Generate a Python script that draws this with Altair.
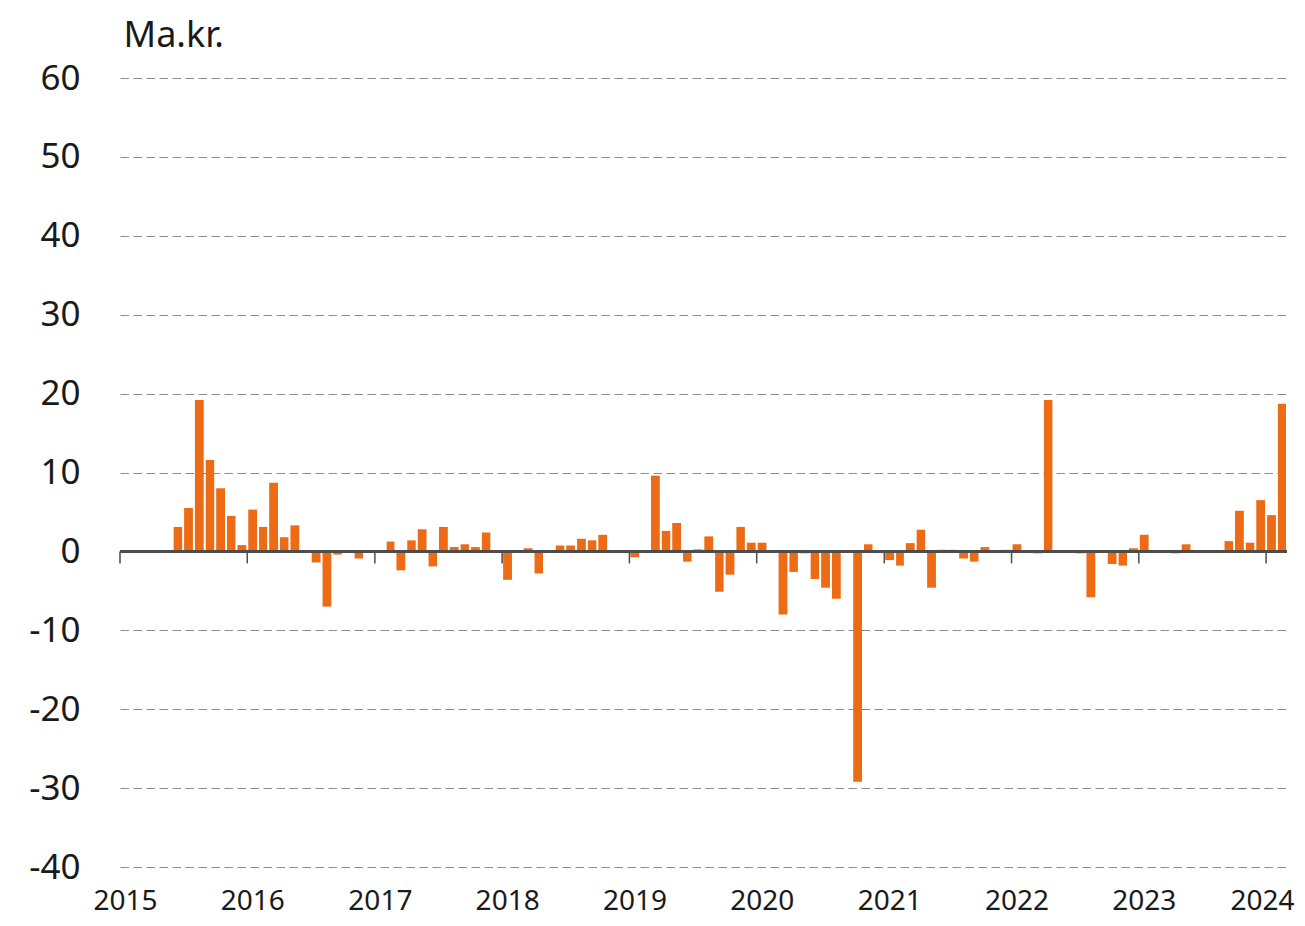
import altair as alt
import pandas as pd

years = [2015, 2016, 2017, 2018, 2019, 2020, 2021, 2022, 2023, 2024]
v2015 = [None, None, None, None, None, 3.1, 5.5, 19.2, 11.6, 8.0, 4.5, 0.8]
v2016 = [5.3, 3.1, 8.7, 1.8, 3.3, None, -1.4, -7.0, -0.4, -0.2, -0.9, -0.2]
v2017 = [-0.2, 1.25, -2.4, 1.4, 2.8, -1.9, 3.1, 0.55, 0.9, 0.55, 2.4, -0.2]
v2018 = [-3.6, -0.2, 0.4, -2.8, None, 0.75, 0.75, 1.6, 1.4, 2.1, None, None]
v2019 = [-0.75, None, 9.6, 2.6, 3.6, -1.3, 0.25, 1.9, -5.1, -2.95, 3.1, 1.1]
v2020 = [1.1, None, -8.0, -2.6, -0.25, -3.5, -4.6, -6.0, None, -29.2, 0.9, None]
v2021 = [-1.1, -1.8, 1.05, 2.75, -4.6, 0.2, 0.2, -0.9, -1.3, 0.55, None, 0.2]
v2022 = [0.9, None, -0.25, 19.2, None, None, -0.25, -5.8, None, -1.6, -1.8, 0.4]
v2023 = [2.1, None, None, -0.25, 0.9, None, None, None, 1.3, 5.15, 1.1, 6.5]
v2024 = [4.6, 18.7]
series = [v2015, v2016, v2017, v2018, v2019, v2020, v2021, v2022, v2023, v2024]

rows = []
for yr, vals in zip(years, series):
    for m, v in enumerate(vals):
        if v is None:
            continue
        ny, nm = (yr, m + 2) if m < 11 else (yr + 1, 1)
        rows.append({
            "start": f"{yr}-{m + 1:02d}-01T00:00:00",
            "end": f"{ny}-{nm:02d}-01T00:00:00",
            "value": v,
        })
df = pd.DataFrame(rows)
ticks_df = pd.DataFrame({"year": [f"{y}-01-01T00:00:00" for y in years]})

FONT = "Noto Sans"
xscale = alt.Scale(domain=[alt.DateTime(year=2015, month=1, date=1),
                           alt.DateTime(year=2024, month=3, date=1)])
yscale = alt.Scale(domain=[-40, 60], nice=False, zero=False)

bars = alt.Chart(df).mark_bar(color="#EC6B14", xOffset=1, x2Offset=-1).encode(
    x=alt.X("start:T", scale=xscale,
            axis=alt.Axis(values=[alt.DateTime(year=y, month=1, date=1) for y in years],
                          format="%Y", grid=False, domain=False, ticks=False,
                          labelFontSize=28, labelFont=FONT, labelColor="#1a1a1a",
                          labelPadding=20, labelAlign="center",
                          labelOffset={"condition": {"test": "year(datum.value) == 2024", "value": -4},
                                       "value": 5},
                          labelFlush=False, labelBound=False, title=None)),
    x2="end:T",
    y=alt.Y("value:Q", scale=yscale,
            axis=alt.Axis(values=list(range(-40, 61, 10)), grid=True,
                          gridDash=[8.5, 4.5], gridColor="#8c8c8c", gridWidth=1.2,
                          domain=False, ticks=False, tickSize=0,
                          labelExpr="datum.value < 0 ? '-' + abs(datum.value) : '' + datum.value",
                          labelFontSize=35, labelFont=FONT, labelColor="#1a1a1a",
                          labelPadding=40,
                          title="Ma.kr.", titleAngle=0, titleX=3, titleY=-32,
                          titleAlign="left", titleBaseline="alphabetic",
                          titleFontSize=36, titleFont=FONT, titleFontWeight="normal",
                          titleColor="#1a1a1a")),
    y2=alt.datum(0),
)

zero = alt.Chart(df).mark_rule(color="#4d4d4d", strokeWidth=1.5).encode(
    y=alt.datum(0)
)

yticks = alt.Chart(ticks_df).mark_rule(color="#4d4d4d", strokeWidth=1.5, y2Offset=12).encode(
    x=alt.X("year:T", scale=xscale),
    y=alt.datum(0, scale=yscale),
    y2=alt.datum(0),
)

chart = alt.layer(bars, zero, yticks).properties(
    width=1167, height=789,
    autosize=alt.AutoSizeParams(type="none"),
    padding={"left": 112, "top": 70, "right": 10, "bottom": 50},
).configure(background="white").configure_view(stroke="transparent", strokeWidth=0)

chart.save("out.html", embed_options={"renderer": "svg", "actions": False})
